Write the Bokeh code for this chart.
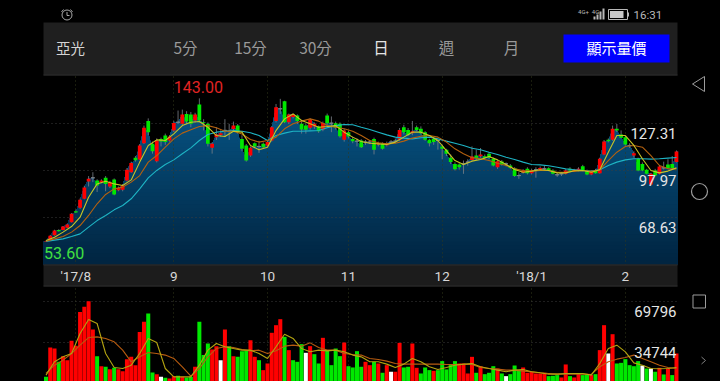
import numpy as np
from bokeh.plotting import figure
from bokeh.models import Range1d, Grid, FixedTicker, LinearAxis
from bokeh.core.properties import value
from bokeh.embed import file_html
from bokeh.resources import INLINE

stock_name = "亞光"
periods = ["5分", "15分", "30分", "日", "週", "月"]
button_label = "顯示量價"
month_ticks = [7, 30, 52, 71, 93, 114, 136]
month_labels = ["'17/8", "9", "10", "11", "12", "'18/1", "2"]
price_ticks = [127.31, 97.97, 68.63]
volume_ticks = [69796, 34744]

opens = [53.6,54.3,57.6,60.9,60.9,62.2,65.7,72.6,74.7,80.3,
         91.1,93.4,91.7,90.7,93.4,88.0,92.3,85.7,85.9,91.7,
         96.9,105.9,104.8,115.0,128.8,114.6,103.8,117.7,119.8,116.7,
         123.0,128.1,127.1,133.3,132.9,129.2,139.2,128.1,127.1,112.1,
         118.8,120.2,123.0,122.5,123.9,126.0,117.7,113.6,107.3,115.0,
         113.0,114.6,113.6,116.7,128.8,136.5,141.2,128.1,131.3,132.3,
         127.1,126.0,124.6,125.4,125.4,123.4,132.3,127.5,127.5,127.1,
         117.1,121.9,117.7,116.3,116.7,115.7,115.7,117.7,114.2,114.6,
         113.8,115.7,116.3,117.1,125.0,123.3,121.3,125.0,124.0,121.9,
         117.1,117.7,116.7,113.0,110.9,105.9,102.1,101.7,102.1,103.2,
         104.6,107.3,106.9,106.9,108.4,105.3,100.0,103.6,102.1,101.1,
         99.4,94.8,96.7,99.0,96.3,98.4,98.4,99.0,99.4,98.0,
         95.3,95.9,95.9,99.0,97.4,98.0,100.7,97.6,95.5,98.0,
         96.3,108.0,117.1,117.1,124.0,120.4,118.8,113.6,107.3,105.3,
         102.1,98.4,89.2,98.0,95.9,99.6,101.7,102.1,103.2]
closes = [54.0,57.2,60.5,60.1,63.0,64.3,70.9,71.7,79.7,87.4,
          92.8,93.4,88.6,91.7,89.6,90.7,83.0,87.0,88.6,98.4,
          102.7,104.4,113.6,124.6,121.9,110.0,116.7,116.1,115.7,119.2,
          127.7,128.1,132.9,128.6,127.1,132.9,129.2,127.6,114.6,114.6,
          120.4,121.3,123.0,122.5,126.0,121.9,111.5,104.2,112.1,113.0,
          113.0,112.5,115.7,125.0,137.5,136.5,128.1,132.9,132.9,128.8,
          123.6,123.4,129.8,127.1,122.5,127.7,127.5,127.5,124.6,119.4,
          123.0,119.2,116.3,116.3,112.5,115.7,115.7,110.9,115.0,111.5,
          115.0,115.7,116.3,123.3,121.9,120.2,122.5,123.3,121.3,117.1,
          115.0,115.7,116.7,111.5,108.4,103.2,98.8,100.0,102.1,103.2,
          106.7,105.7,108.0,105.7,105.9,101.1,103.8,101.7,102.1,99.6,
          94.6,94.8,98.0,96.3,98.0,98.4,99.6,99.0,98.0,95.9,
          95.3,95.9,98.0,98.0,98.4,99.0,98.0,95.5,97.0,96.3,
          105.3,116.0,116.3,124.0,123.0,118.4,114.2,113.6,108.8,98.0,
          98.0,95.9,95.9,94.8,100.5,99.6,99.6,99.6,109.8]
highs = [54.3,57.8,61.0,61.3,63.3,64.8,71.3,73.5,80.5,88.5,
         94.5,96.9,92.5,92.5,94.5,91.5,93.0,88.0,89.5,99.5,
         103.5,107.0,114.5,126.0,130.5,116.0,118.0,118.5,121.0,120.0,
         129.0,135.4,136.0,135.0,134.5,134.0,143.0,130.0,128.0,115.5,
         125.0,123.0,130.0,127.1,128.5,127.0,120.0,114.5,113.0,115.5,
         116.5,115.5,116.5,125.8,139.5,142.7,141.5,133.5,133.5,133.0,
         129.0,127.5,130.5,128.0,126.0,128.5,133.5,131.7,128.5,128.0,
         124.0,123.0,119.0,118.0,117.5,117.0,117.0,118.5,116.0,115.5,
         116.0,117.0,118.0,124.5,126.5,124.5,128.9,126.0,125.5,122.5,
         117.8,118.5,117.5,114.0,111.5,108.0,103.0,102.5,104.2,105.0,
         113.0,111.0,112.0,108.0,109.5,106.0,104.5,104.5,103.0,102.0,
         100.0,96.9,98.8,100.0,99.0,100.0,100.5,101.4,100.0,98.8,
         96.5,97.0,98.8,100.0,99.0,100.0,101.5,98.5,98.0,99.0,
         106.0,117.0,118.0,126.0,127.0,123.0,119.5,115.0,110.0,106.0,
         103.0,99.0,96.5,99.0,101.5,103.5,105.0,107.0,110.5]
lows = [53.6,54.0,57.3,59.8,60.6,62.0,65.5,71.4,74.0,80.0,
        88.0,90.7,84.5,90.0,85.0,87.0,82.5,85.0,85.0,91.2,
        96.5,103.5,104.5,114.5,120.0,108.5,103.0,113.0,114.0,116.0,
        122.0,127.0,126.5,127.0,125.0,128.0,128.0,123.0,113.0,108.5,
        117.0,119.0,118.8,117.1,122.0,121.0,110.0,103.5,106.5,112.0,
        109.0,112.0,113.0,116.0,128.0,133.3,127.5,127.0,130.5,127.0,
        121.0,121.0,123.5,124.0,121.5,122.5,125.5,121.9,123.5,118.5,
        116.0,118.0,115.0,113.0,112.0,114.0,114.5,108.0,113.0,111.0,
        113.0,115.0,115.5,116.5,120.5,119.5,120.0,122.5,120.5,116.5,
        113.0,114.0,111.0,105.0,107.0,102.0,98.0,98.5,95.9,101.0,
        104.0,104.5,106.0,105.0,105.0,100.5,99.0,101.0,100.5,99.0,
        94.0,92.8,96.0,95.5,95.5,93.5,98.0,98.0,97.5,95.5,
        94.0,94.5,95.5,97.5,97.0,97.5,97.5,95.0,95.0,96.0,
        96.0,107.5,115.5,116.5,122.0,118.0,113.5,112.0,106.0,97.5,
        97.5,95.5,89.0,94.5,95.5,98.5,99.0,99.0,103.0]

# moving averages read at every second session
ma_days = list(range(0, 149, 2))
ma_short = [54.3,56.3,59.5,63.0,68.8,81.3,89.6,91.3,89.6,88.6,
            92.1,103.2,113.6,117.1,116.7,120.8,126.0,128.1,128.6,125.0,
            119.8,119.2,122.5,121.9,113.6,110.9,112.5,122.9,130.2,133.3,
            129.2,127.1,125.0,125.4,126.0,121.9,118.8,116.1,115.0,114.6,
            114.2,115.7,118.8,121.9,121.9,119.8,116.7,110.4,104.2,101.7,
            103.8,104.8,106.7,104.6,101.7,98.6,96.9,97.6,98.4,98.0,
            96.5,96.5,97.8,98.0,96.9,98.4,109.4,119.8,119.8,113.6,
            105.3,98.0,96.5,97.6,99.6]
ma_mid = [53.8,55.3,56.8,59.5,63.6,69.9,77.2,83.0,86.5,87.6,
          90.7,94.8,103.2,107.3,112.5,117.7,121.3,123.4,125.4,126.0,
          124.6,122.5,122.5,120.8,117.3,115.7,116.7,118.8,124.0,127.1,
          128.8,130.2,128.8,126.0,125.0,124.0,122.5,119.8,116.7,115.3,
          114.6,115.0,116.3,118.2,119.4,119.8,118.8,115.7,111.5,108.4,
          106.0,105.3,104.2,102.5,101.1,99.0,98.0,97.6,98.0,98.0,
          96.9,96.9,97.6,98.0,97.4,98.4,104.2,109.4,113.0,113.6,
          112.5,107.3,101.1,99.0,99.0]
ma_long = [53.6,54.5,55.3,56.8,58.4,62.6,66.7,69.9,73.4,76.1,
           80.3,86.5,93.4,98.0,101.7,104.6,108.4,112.1,116.7,120.4,
           121.9,122.5,122.9,122.5,121.5,119.8,116.7,119.8,121.3,122.5,
           122.5,122.7,122.9,124.6,126.0,126.7,126.5,125.0,123.6,121.9,
           120.2,118.8,118.2,117.7,118.4,118.8,117.7,116.3,115.0,113.6,
           111.9,110.9,109.4,108.0,106.3,104.8,103.2,101.7,101.5,100.9,
           100.0,99.0,98.4,98.0,97.6,98.4,101.1,103.2,104.6,105.3,
           105.3,105.1,105.3,105.7,106.1]

volumes = [4600,30000,29100,17600,22500,19000,35800,31400,60800,65200,
           70100,45600,22500,13800,13300,11250,12400,11250,9500,19900,
           21900,14700,43500,52200,59400,8400,6900,4600,3750,3200,
           5200,5500,4600,4050,4600,13300,52200,23400,33450,28250,
           31150,19000,45600,31150,22500,21900,26800,27100,36350,21900,
           19000,10400,16150,42700,49300,54500,39200,27700,19000,17600,
           32900,25400,31150,24200,16150,38350,27700,14700,29100,22500,
           34300,13800,12700,26800,13300,17600,14700,17600,16150,8100,
           14700,9000,9000,34000,12700,13300,33450,12400,7500,12700,
           10400,9800,10400,18200,11000,15600,18200,16150,16150,7500,
           21900,8100,13800,6900,8100,13800,11800,7500,5200,6900,
           14400,10400,12700,8100,9000,7500,7500,8100,5200,5500,
           6100,4050,15300,5200,4050,7500,6100,6650,6100,6900,
           27700,49300,24800,41500,16150,16700,19900,14700,13800,18200,
           14400,11800,11800,9000,12400,6650,11800,6100,24800]
volume_dir = [-1,1,1,-1,1,1,1,1,1,1,
              1,1,-1,1,-1,1,-1,1,1,1,
              1,1,1,1,-1,-1,1,0,-1,1,
              1,-1,1,-1,-1,1,-1,-1,-1,1,
              1,0,1,-1,1,-1,-1,-1,1,1,
              -1,1,1,1,1,1,-1,1,-1,-1,
              -1,0,1,-1,-1,1,-1,-1,-1,-1,
              1,-1,-1,-1,-1,1,1,-1,1,-1,
              1,0,1,1,-1,-1,1,1,-1,-1,
              -1,1,-1,-1,-1,-1,-1,1,1,1,
              1,-1,1,-1,-1,-1,1,-1,0,-1,
              -1,-1,1,1,1,1,1,1,-1,-1,
              -1,1,1,-1,1,1,-1,-1,1,-1,
              1,1,0,1,-1,-1,-1,-1,-1,-1,
              0,-1,0,-1,1,-1,1,-1,1]
vol_short = [6100,17600,21900,24800,42100,54200,50750,24800,12700,11800,
             14700,24800,37800,34300,11800,4600,4600,4600,14700,27700,
             33450,30600,29100,27700,27700,24800,20500,30600,41500,37800,
             29100,26250,27700,27100,27700,26250,23400,21900,17600,17600,
             15600,12700,15600,20500,17600,13300,11000,12700,14700,15600,
             16150,13300,11800,10400,9000,10400,11000,9000,8100,6900,
             6900,7500,7500,7500,6100,16150,29100,32000,26250,16700,
             14700,11800,11550,11800,12700]
vol_long = [7500,14700,19000,24800,32000,38600,39200,37800,34900,27700,
            17600,21900,25700,24800,23400,20500,13300,5200,11800,21900,
            29100,30600,30000,28250,27100,27700,24800,27100,31150,32000,
            31150,34000,30000,27700,27700,24800,23900,23400,20500,19600,
            18200,16150,15600,15600,15600,15600,15600,15300,15300,15300,
            15300,12700,11800,11250,10400,10400,9500,9000,8100,7500,
            6900,6900,6900,6900,6650,13300,17600,19900,21350,23400,
            20500,17600,14700,12700,11800]

C_UP, C_DOWN, C_FLAT, C_WICK = "#ff0000", "#00e800", "#ffffff", "#7a8188"
CJK, NUM = "Noto Sans CJK TC", "Roboto"

n = len(closes)
days = np.arange(n)
o, c = np.array(opens), np.array(closes)

# scales: one session is 4.26 px, price 0.62426 per px, volume 865.5 per px
p = figure(width=720, height=381, output_backend="svg", toolbar_location=None,
           x_range=Range1d(-45.5 / 4.26, (720 - 45.5) / 4.26),
           y_range=Range1d(127.31 - 258 * 0.62426, 127.31 + 123 * 0.62426),
           min_border=0, x_axis_type=None, y_axis_type=None,
           background_fill_color="#000000", border_fill_color="#000000", outline_line_color=None)
p.grid.visible = False
p.extra_x_ranges = {"px": Range1d(0, 720)}
p.extra_y_ranges = {"px": Range1d(381, 0), "vol": Range1d(557, 557 + 381 * 865.5)}

# area with vertical gradient, as stacked layers
area_x = np.concatenate([[-0.6], days, [148.2]])
area_y = np.concatenate([[closes[0]], c, [closes[-1]]])
base = 39.29
top_rgb, bot_rgb = np.array([8, 90, 140]), np.array([1, 36, 64])
levels = np.linspace(150, base, 48)
for lv in levels[:-1]:
    t = (150 - lv) / (150 - base)
    rgb = (top_rgb + (bot_rgb - top_rgb) * t).astype(int)
    p.varea(area_x, y1=np.minimum(area_y, lv), y2=base,
            fill_color="#%02x%02x%02x" % tuple(rgb), level="image")

# grids
p.add_layout(Grid(dimension=0, ticker=FixedTicker(ticks=month_ticks), cross_bounds=(-33.7, 157),
                  grid_line_color="#33391a", grid_line_dash="1 3", grid_line_width=1))
p.add_layout(Grid(dimension=1, ticker=FixedTicker(ticks=price_ticks), cross_bounds=(-0.6, 148.2),
                  grid_line_color="#3c3c3c", grid_line_dash="1 3", grid_line_width=1))
p.add_layout(Grid(dimension=1, y_range_name="vol", ticker=FixedTicker(ticks=volume_ticks),
                  cross_bounds=(-0.6, 148.2),
                  grid_line_color="#3c3c3c", grid_line_dash="1 3", grid_line_width=1))

# chrome backgrounds
def box(x0, x1, y0, y1, color):
    p.quad(left=[x0], right=[x1], top=[y0], bottom=[y1], fill_color=color, line_color=None,
           x_range_name="px", y_range_name="px")

box(43, 677, 22, 75, "#1f1f1f")
box(43, 677, 74, 75, "#2c2c2c")
box(43, 677, 264, 286, "#1c1c1c")
box(43, 677, 264, 265, "#2c2c2c")
box(43, 677, 285, 286, "#2c2c2c")
box(563, 669, 34, 62, "#0000ff")

# candles
p.segment(days, lows, days, highs, line_color=C_WICK, line_width=1, line_alpha=0.8)
colors = [C_UP if b > a else C_DOWN if b < a else C_WICK for a, b in zip(opens, closes)]
p.vbar(x=days, top=np.maximum(o, c), bottom=np.minimum(o, c), width=0.88,
       fill_color=colors, line_color=[C_WICK if a == b else None for a, b in zip(opens, closes)],
       line_width=1)

# moving averages
p.line(ma_days, ma_long, line_color="#1eb4c4", line_width=1.1)
p.line(ma_days, ma_mid, line_color="#b4610f", line_width=1.1)
p.line(ma_days, ma_short, line_color="#c8c426", line_width=1.1)

# volume
vol_colors = [C_UP if d > 0 else C_DOWN if d < 0 else C_FLAT for d in volume_dir]
p.vbar(x=days, top=volumes, bottom=0, width=0.94, fill_color=vol_colors, line_color=None, y_range_name="vol")
p.line(ma_days, vol_long, line_color="#b85c10", line_width=1.1, y_range_name="vol")
p.line(ma_days, vol_short, line_color="#b4a410", line_width=1.1, y_range_name="vol")

# month axis, placed on the strip below the price panel
axis = LinearAxis(ticker=FixedTicker(ticks=month_ticks),
                  major_label_overrides={t: s for t, s in zip(month_ticks, month_labels)},
                  fixed_location=39.29, axis_line_color=None, major_tick_line_color=None,
                  minor_tick_line_color=None, major_label_standoff=-2,
                  major_label_text_color="#d8d8d8", major_label_text_font=NUM,
                  major_label_text_font_size="13.5px")
p.add_layout(axis, "below")

def txt(x, y, s, size, color, font=CJK, align="center", baseline="middle",
        xr="px", yr="px", xoff=0, yoff=0, weight="normal"):
    kw = {}
    if xr != "default":
        kw["x_range_name"] = xr
    if yr != "default":
        kw["y_range_name"] = yr
    p.text([x], [y], text=[s], text_font=value(font), text_font_size="%gpx" % size,
           text_color=color, text_align=align, text_baseline=baseline,
           x_offset=xoff, y_offset=yoff, text_font_style=weight, **kw)

# header
txt(70, 46.5, stock_name, 14.5, "#d4d4d4")
for s, x, col in zip(periods, [185, 250, 315, 380.5, 446, 511],
                     ["#9a9a9a", "#9a9a9a", "#9a9a9a", "#e4e4e4", "#9a9a9a", "#9a9a9a"]):
    txt(x, 46.5, s, 15.5, col)
txt(616, 46.5, button_label, 15, "#ffffff")

# value labels
for v in price_ticks:
    txt(676, v, "%.2f" % v, 15, "#e6e6e6", font=NUM, align="right", yr="default", yoff=10)
for v in volume_ticks:
    txt(676, v, "%d" % v, 15, "#e6e6e6", font=NUM, align="right", yr="vol", yoff=10)
txt(36, max(highs), "%.2f" % max(highs), 16, "#e02424", font=NUM, xr="default", yr="default",
    baseline="bottom", yoff=-5, xoff=-1)
txt(0, min(lows), "%.2f" % min(lows), 16, "#40e040", font=NUM, xr="default", yr="default",
    align="left", baseline="top", xoff=-2, yoff=5)

# status bar
txt(633, 14, "16:31", 11.5, "#b8b8b8", font=NUM, align="left")
txt(583, 11, "4G+", 6, "#b8b8b8", font=NUM)
txt(595, 11, "4G", 6, "#b8b8b8", font=NUM)
for x0, top in zip([593, 596, 599, 602], [16, 14, 11, 8]):
    box(x0, x0 + 2, top, 19, "#b8b8b8")
p.quad(left=[608], right=[627], top=[9], bottom=[19], fill_color=None, line_color="#b8b8b8",
       x_range_name="px", y_range_name="px")
box(609.5, 623, 10.5, 17.5, "#c8c8c8")
box(627, 628.5, 12, 16, "#b8b8b8")
p.scatter([66.5], [14.5], size=10, marker="circle", fill_color=None, line_color="#a8a8a8",
          line_width=1, x_range_name="px", y_range_name="px")
p.multi_line([[66.5, 66.5, 69], [61, 63], [70, 72]], [[11.5, 15, 15], [11.5, 9], [9, 11.5]],
             line_color="#a8a8a8", line_width=1, x_range_name="px", y_range_name="px")

# navigation keys
nav = "#9c9c9c"
p.line([704, 692, 704, 704], [76, 83.5, 91, 76], line_color=nav, line_width=1,
       x_range_name="px", y_range_name="px")
p.scatter([699], [191], size=16, marker="circle", fill_color=None, line_color=nav, line_width=1.2,
          x_range_name="px", y_range_name="px")
p.quad(left=[692.5], right=[705], top=[294.5], bottom=[307.5], fill_color=None, line_color=nav,
       x_range_name="px", y_range_name="px")
p.line([701, 705, 701], [356.5, 360, 363.5], line_color="#808080", line_width=1,
       x_range_name="px", y_range_name="px")

html = file_html(p, INLINE)
html = html.replace("<head>", "<head><style>html,body{margin:0;padding:0;background:#000;overflow:hidden}</style>", 1)
open("out.html", "w").write(html)
